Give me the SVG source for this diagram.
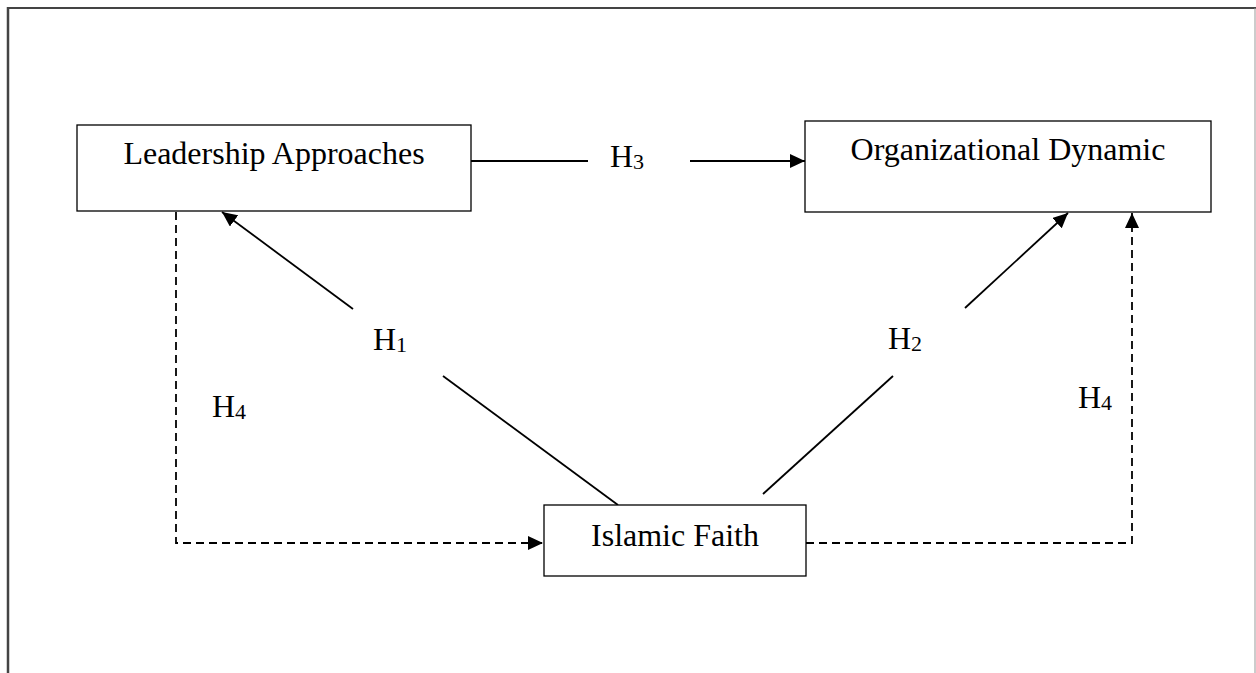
<svg xmlns="http://www.w3.org/2000/svg" width="1256" height="673" viewBox="0 0 1256 673">
<style>
.box{fill:#fff;stroke:#000;stroke-width:1.3}
.t{font-family:"Liberation Serif","Times New Roman",serif;font-size:32px;fill:#000}
.ln{stroke:#000;stroke-width:1.8;fill:none}
.ds{stroke:#000;stroke-width:1.8;fill:none;stroke-dasharray:8,5}
</style>
<defs>
<marker id="ah" viewBox="0 0 15 14" refX="15" refY="7" markerWidth="15" markerHeight="14" markerUnits="userSpaceOnUse" orient="auto">
<path d="M0,0 L15,7 L0,14 Z" fill="#000"/>
</marker>
</defs>
<rect width="1256" height="673" fill="#fff"/>
<g id="frame">
<line x1="8" y1="8" x2="1256" y2="8" stroke="#444" stroke-width="2"/>
<line x1="8" y1="7" x2="8" y2="673" stroke="#444" stroke-width="2.5"/>
<line x1="1255" y1="8" x2="1255" y2="673" stroke="#999" stroke-width="1"/>
</g>
<g id="connectors">
<line class="ln" x1="471" y1="161" x2="588" y2="161"/>
<line class="ln" x1="690" y1="161" x2="805" y2="161" marker-end="url(#ah)"/>
<line class="ln" x1="618" y1="505" x2="443" y2="376"/>
<line class="ln" x1="353" y1="309" x2="222" y2="212" marker-end="url(#ah)"/>
<line class="ln" x1="763" y1="494" x2="893" y2="376"/>
<line class="ln" x1="965" y1="308" x2="1068" y2="213" marker-end="url(#ah)"/>
<polyline class="ds" points="176,212 176,543 543,543" marker-end="url(#ah)"/>
<polyline class="ds" points="806,543 1132,543 1132,213" marker-end="url(#ah)"/>
</g>
<g id="labels">
<text class="t" x="610" y="167">H<tspan font-size="22" dy="2">3</tspan></text>
<text class="t" x="373" y="350">H<tspan font-size="22" dy="2">1</tspan></text>
<text class="t" x="888" y="349">H<tspan font-size="22" dy="2">2</tspan></text>
<text class="t" x="212" y="417">H<tspan font-size="22" dy="2">4</tspan></text>
<text class="t" x="1078" y="408">H<tspan font-size="22" dy="2">4</tspan></text>
</g>
<g id="node-leadership">
<rect class="box" x="77" y="125" width="394" height="86"/>
<text class="t" x="274" y="164" text-anchor="middle">Leadership Approaches</text>
</g>
<g id="node-organizational">
<rect class="box" x="805" y="121" width="406" height="91"/>
<text class="t" x="1008" y="160" text-anchor="middle">Organizational Dynamic</text>
</g>
<g id="node-islamic">
<rect class="box" x="544" y="505" width="262" height="71"/>
<text class="t" x="675" y="546" text-anchor="middle">Islamic Faith</text>
</g>
</svg>
